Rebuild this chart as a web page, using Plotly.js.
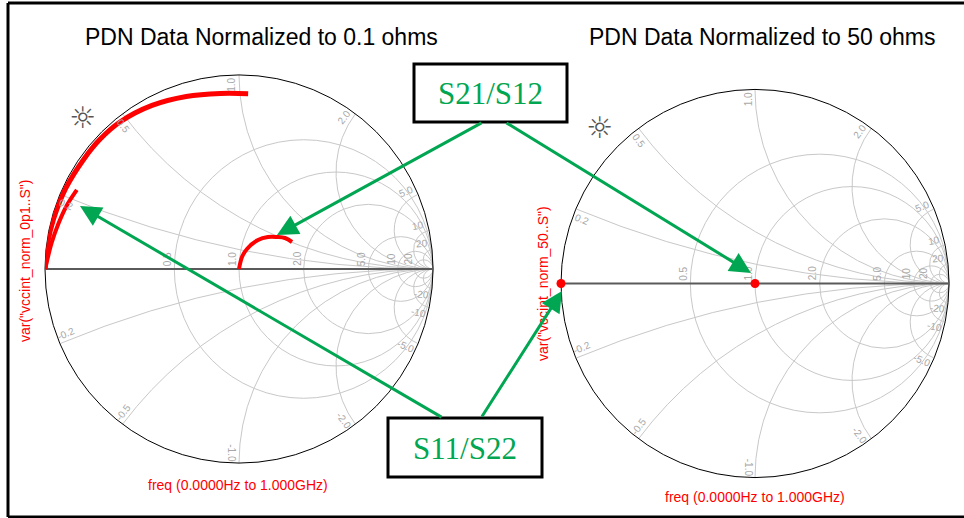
<!DOCTYPE html>
<html><head><meta charset="utf-8">
<script src="https://cdn.plot.ly/plotly-3.0.1.min.js"></script>
<style>html,body{margin:0;padding:0;background:#fff}</style>
</head><body><div id="chart" style="width:964px;height:518px"></div>
<script>
// ---- data (normalized impedance) ----
const outerArcReal = [0.0005, 0.0025, 0.0051, 0.0079, 0.0111, 0.0117, 0.0155, 0.0313, 0.0561, 0.0852, 0.105];
const outerArcImag = [0, 0.0699, 0.1316, 0.2217, 0.3153, 0.3939, 0.4769, 0.6004, 0.7385, 0.8968, 1.048];
const innerArcReal = [0.0005, 0.0127, 0.0207, 0.0281, 0.0382];
const innerArcImag = [0, 0.0699, 0.1227, 0.1762, 0.2305];
const s21Real = [1.0, 1.0235, 1.062, 1.158, 1.266, 1.387, 1.512, 1.655];
const s21Imag = [0, 0.1272, 0.2217, 0.3576, 0.4394, 0.4895, 0.526, 0.5084];
const norm50Real = [0, 1];
const norm50Imag = [0, 0];
const realTicks = [0.5, 1, 2, 5, 10, 20];
const imagTicks = [0.2, 0.5, 1, 2, 5, 10, 20];
const titles = ["PDN Data Normalized to 0.1 ohms", "PDN Data Normalized to 50 ohms"];
const yLabels = ['var("vccint_norm_0p1..S")', 'var("vccint_norm_50..S")'];
const xLabel = "freq (0.0000Hz to 1.000GHz)";
const boxLabels = ["S21/S12", "S11/S22"];

// ---- layout helpers ----
const W = 964, H = 518;
const px = x => x / W;
const py = y => 1 - y / H;
const RED = "#ff0000", GREEN = "#00a651", GRID = "#c8c8c8", TICK = "#a8a8a8";

const charts = [
  {id: "smith", x0: 45, x1: 433, y0: 75, y1: 463},
  {id: "smith2", x0: 561, x1: 949, y0: 89, y1: 478}
];

const traces = [
  {type: "scattersmith", subplot: "smith", real: outerArcReal, imag: outerArcImag, mode: "lines",
   line: {color: RED, width: 5, shape: "spline"}, hoverinfo: "skip"},
  {type: "scattersmith", subplot: "smith", real: innerArcReal, imag: innerArcImag, mode: "lines",
   line: {color: RED, width: 4, shape: "spline"}, hoverinfo: "skip"},
  {type: "scattersmith", subplot: "smith", real: s21Real, imag: s21Imag, mode: "lines",
   line: {color: RED, width: 4, shape: "spline"}, hoverinfo: "skip"},
  {type: "scattersmith", subplot: "smith2", real: norm50Real, imag: norm50Imag, mode: "markers",
   marker: {color: RED, size: 9, opacity: 1, line: {width: 0}}, hoverinfo: "skip"}
];

const allImag = imagTicks.map(v => -v).reverse().concat(imagTicks);

function smithAxes(c) {
  return {
    domain: {x: [px(c.x0), px(c.x1)], y: [py(c.y1), py(c.y0)]},
    bgcolor: "#ffffff",
    realaxis: {tickvals: realTicks, gridcolor: GRID, gridwidth: 1,
               linecolor: "#5a5a5a", linewidth: 2, showline: true, layer: "below traces",
               showticklabels: false, ticks: ""},
    imaginaryaxis: {tickvals: allImag, gridcolor: GRID, gridwidth: 1,
                    linecolor: "#000000", linewidth: 1, showline: true, ticks: "", layer: "below traces",
                    showticklabels: false}
  };
}

const annotations = [];
const txt = (text, x, y, size, color, extra, family) => Object.assign({
  text, x: px(x), y: py(y), xref: "paper", yref: "paper", showarrow: false,
  xanchor: "center", yanchor: "middle",
  font: {family: family || "Liberation Sans, Arial", size, color}}, extra || {});

const fmt = v => (Math.abs(v) >= 10 ? String(v) : v.toFixed(1));

// grid value labels placed from the tick arrays (inside the circle like the reference)
charts.forEach(c => {
  const cx = (c.x0 + c.x1) / 2, cy = (c.y0 + c.y1) / 2, R = (c.x1 - c.x0) / 2;
  realTicks.forEach(r => {
    const g = (r - 1) / (r + 1);
    annotations.push(txt(fmt(r), cx + R * g - 7, cy - 10, 10, TICK, {textangle: -90}));
  });
  allImag.forEach(v => {
    const phi = Math.atan2(2 * v, v * v - 1) * 180 / Math.PI;
    const pl = (phi + (v > 0 ? 2.2 : -2.2)) * Math.PI / 180;
    let a = phi;
    if (a > 90) a -= 180;
    if (a < -90) a += 180;
    annotations.push(txt(fmt(v), cx + 0.95 * R * Math.cos(pl), cy - 0.95 * R * Math.sin(pl), 10, TICK, {textangle: -a}));
  });
});

annotations.push(txt(titles[0], 261, 37, 23, "#000"));
annotations.push(txt(titles[1], 762, 37, 23, "#000"));
annotations.push(txt(yLabels[0], 25, 261, 14, RED, {textangle: -90}));
annotations.push(txt(yLabels[1], 543, 284, 14, RED, {textangle: -90}));
annotations.push(txt(xLabel, 238, 485, 14, RED));
annotations.push(txt(xLabel, 755, 497, 14, RED));
annotations.push(txt("\u263C", 82, 117, 30, "#555", null, "DejaVu Sans"));
annotations.push(txt("\u263C", 599, 128, 30, "#555", null, "DejaVu Sans"));
annotations.push(txt(boxLabels[0], 490.5, 94, 31, GREEN, null, "Liberation Serif, Times New Roman"));
annotations.push(txt(boxLabels[1], 465, 448, 31, GREEN, null, "Liberation Serif, Times New Roman"));

const arrow = (tailX, tailY, tipX, tipY) => ({
  text: "", x: px(tipX), y: py(tipY), xref: "paper", yref: "paper",
  ax: tailX - tipX, ay: tailY - tipY, axref: "pixel", ayref: "pixel",
  showarrow: true, arrowhead: 2, arrowsize: 1.4, arrowwidth: 3, arrowcolor: GREEN, standoff: 0
});
annotations.push(arrow(483, 122, 277, 235));
annotations.push(arrow(505, 122, 751, 273));
annotations.push(arrow(443, 418, 80, 206));
annotations.push(arrow(481, 418, 562, 291));

const rect = (x0, y0, x1, y1) => ({type: "rect", xref: "paper", yref: "paper",
  x0: px(x0), x1: px(x1), y0: py(y0), y1: py(y1), line: {color: "#000", width: 3}, fillcolor: "rgba(255,255,255,0)"});
const line = (x0, y0, x1, y1) => ({type: "line", xref: "paper", yref: "paper",
  x0: px(x0), x1: px(x1), y0: py(y0), y1: py(y1), line: {color: "#000", width: 3}});

const layout = {
  width: W, height: H, margin: {l: 0, r: 0, t: 0, b: 0},
  paper_bgcolor: "#ffffff", showlegend: false,
  smith: smithAxes(charts[0]),
  smith2: smithAxes(charts[1]),
  annotations,
  shapes: [
    line(8, 3, 8, 517), line(8, 3, 964, 3), line(8, 517, 964, 517),
    rect(414, 64, 567, 122), rect(388, 418, 542, 477)
  ]
};

Plotly.newPlot("chart", traces, layout, {staticPlot: true, displayModeBar: false});
</script></body></html>
